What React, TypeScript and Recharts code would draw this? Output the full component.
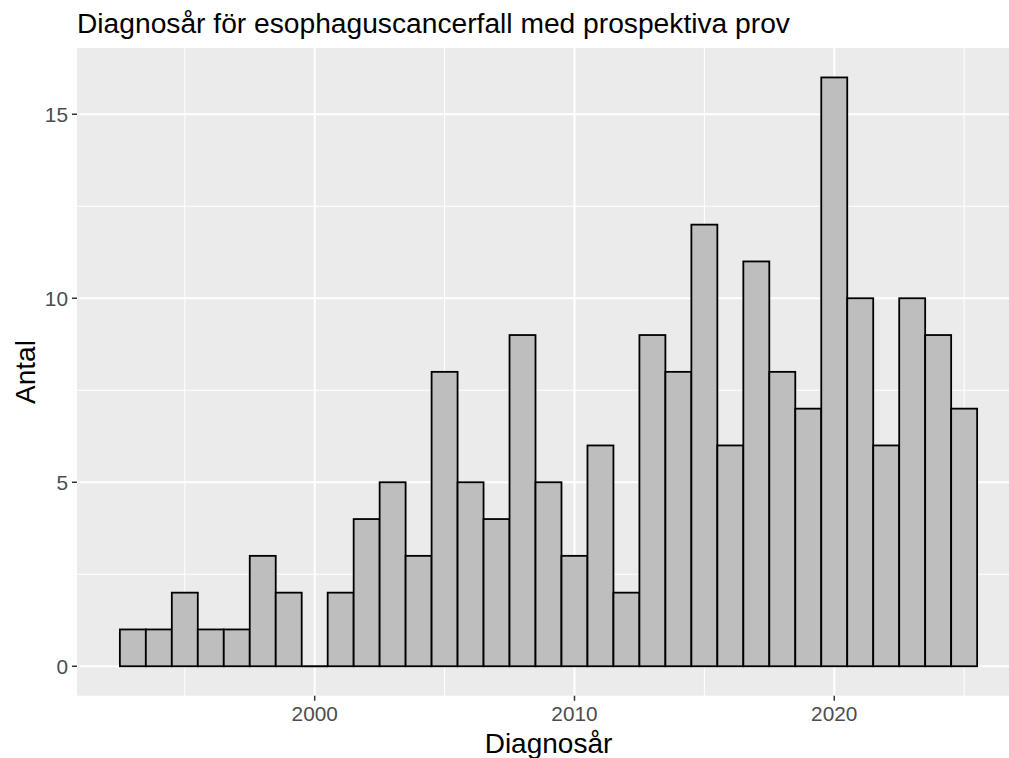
import { BarChart, Bar, XAxis, YAxis, CartesianGrid } from "recharts";

const years = [
  1993, 1994, 1995, 1996, 1997, 1998, 1999, 2000, 2001, 2002, 2003, 2004, 2005, 2006, 2007, 2008, 2009,
  2010, 2011, 2012, 2013, 2014, 2015, 2016, 2017, 2018, 2019, 2020, 2021, 2022, 2023, 2024, 2025,
];
const counts = [
  1, 1, 2, 1, 1, 3, 2, 0, 2, 4, 5, 3, 8, 5, 4, 9, 5,
  3, 6, 2, 9, 8, 12, 6, 11, 8, 7, 16, 10, 6, 10, 9, 7,
];
const xTicks = [2000, 2010, 2020];
const xMinor = [1995, 2005, 2015, 2025];
const yTicks = [0, 5, 10, 15];
const yMinor = [2.5, 7.5, 12.5];

const TITLE = "Diagnosår för esophaguscancerfall med prospektiva prov";
const X_LABEL = "Diagnosår";
const Y_LABEL = "Antal";

const data = years.map((year, i) => ({ year, count: counts[i] }));

// ggplot-style expanded domains (5% each side)
const xDomain: [number, number] = [1990.85, 2027.15];
const yDomain: [number, number] = [-0.8, 16.8];

const W = 1040;
const H = 758;
const margin = { top: 48, right: 20, left: 17, bottom: 22.3 };
const Y_AXIS_W = 60;
const X_AXIS_H = 40;
const plotW = W - margin.left - Y_AXIS_W - margin.right;
const yearPx = plotW / (xDomain[1] - xDomain[0]);

const FONT = "'Liberation Sans', Arial, sans-serif";
const tickStyle = { fill: "#4D4D4D", fontSize: 20.8, fontFamily: FONT };

// histogram bar: draws a flat line for empty bins like geom_histogram does
const HistBar = (props: any) => {
  const { x, y, width, height } = props;
  if (!height) {
    return <line x1={x} x2={x + width} y1={y} y2={y} stroke="#000" strokeWidth={1.8} />;
  }
  return <rect x={x} y={y} width={width} height={height} fill="#BEBEBE" stroke="#000" strokeWidth={1.8} />;
};

export default function App() {
  return (
    <div style={{ position: "fixed", left: 0, top: 0, width: 1009, height: 758, overflow: "hidden", background: "#fff" }}>
      <BarChart width={W} height={H} data={data} margin={margin} barCategoryGap={0} barGap={0}>
        <CartesianGrid
          fill="#EBEBEB"
          stroke="#fff"
          strokeWidth={1}
          horizontalValues={yMinor}
          verticalValues={xMinor}
        />
        <CartesianGrid stroke="#fff" strokeWidth={2} horizontalValues={yTicks} verticalValues={xTicks} />
        <XAxis
          dataKey="year"
          type="number"
          domain={xDomain}
          allowDataOverflow
          ticks={xTicks}
          interval={0}
          height={X_AXIS_H}
          axisLine={false}
          tickLine={{ stroke: "#333333", strokeWidth: 1.5 }}
          tickSize={5}
          tickMargin={6}
          tick={tickStyle}
        />
        <YAxis
          type="number"
          domain={yDomain}
          allowDataOverflow
          ticks={yTicks}
          interval={0}
          width={Y_AXIS_W}
          axisLine={false}
          tickLine={{ stroke: "#333333", strokeWidth: 1.5 }}
          tickSize={5}
          tickMargin={4}
          tick={tickStyle}
        />
        <Bar dataKey="count" barSize={yearPx - 0.01} shape={HistBar} isAnimationActive={false} />
      </BarChart>
      <svg width={1009} height={758} style={{ position: "absolute", left: 0, top: 0, pointerEvents: "none" }}>
        <text x={77} y={33} fontSize={28.2} fontFamily={FONT} fill="#000">
          {TITLE}
        </text>
        <text x={548.5} y={752.5} fontSize={28} fontFamily={FONT} fill="#000" textAnchor="middle">
          {X_LABEL}
        </text>
        <text x={35} y={372} fontSize={28} fontFamily={FONT} fill="#000" textAnchor="middle" transform="rotate(-90 35 372)">
          {Y_LABEL}
        </text>
      </svg>
    </div>
  );
}
